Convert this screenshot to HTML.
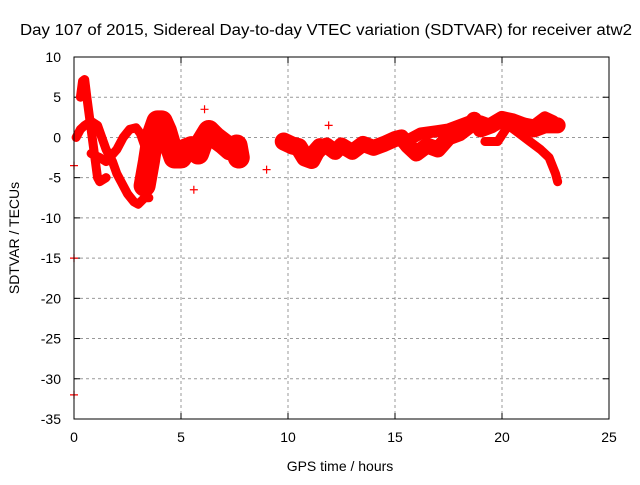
<!DOCTYPE html>
<html><head><meta charset="utf-8"><style>
body{margin:0;background:#fff}
svg text{font-family:"Liberation Sans",sans-serif;font-size:14px;fill:#000}
</style></head><body>
<svg width="640" height="480" id="c">
<rect width="640" height="480" fill="#fff"/>
<text x="20" y="35" textLength="612" lengthAdjust="spacingAndGlyphs" style="font-size:15.5px">Day 107 of 2015, Sidereal Day-to-day VTEC variation (SDTVAR) for receiver atw2</text>
<text x="340" y="471" text-anchor="middle">GPS time / hours</text>
<text transform="translate(19,238) rotate(-90)" text-anchor="middle">SDTVAR / TECUs</text>
<g id="grid"></g><g id="data"></g>
<rect x="74" y="57" width="535" height="362" fill="none" stroke="#000" stroke-width="1"/>
</svg>
<script>
const xTicks=[0,5,10,15,20,25];
const yTicks=[10,5,0,-5,-10,-15,-20,-25,-30,-35];
const traceA=[[0.3,5],[0.4,7],[0.5,7.2],[0.6,5],[0.7,3],[0.8,1],[0.9,-1],[1.0,-3],[1.1,-5],[1.2,-5.5],[1.5,-5]];
const traceB=[[0.1,0],[0.3,1],[0.5,1.5],[0.8,2],[1.1,1.5],[1.3,0],[1.5,-1.5],[1.8,-3],[2.0,-4.5],[2.2,-5.5],[2.5,-7],[2.8,-8],[3.0,-8.3],[3.3,-7.5],[3.5,-7.5]];
const traceC=[[0.8,-2],[1.2,-2.5],[1.5,-3],[2.0,-1.5],[2.3,0],[2.6,1],[2.9,1.2],[3.1,0.5],[3.3,-1],[3.5,-3]];
const traceD=[[3.3,-6],[3.5,-3],[3.7,0.5],[3.9,2],[4.1,2],[4.3,0.8],[4.5,-1],[4.7,-2.5],[5.0,-2.5],[5.2,-1.5],[5.5,-1.2],[5.8,-2],[6.0,-0.5],[6.3,0.8],[6.6,0],[7.0,-0.8],[7.3,-1.5],[7.6,-1],[7.7,-2.5]];
const traceE=[[9.8,-0.5],[10.2,-1],[10.5,-1.2],[10.8,-2.5],[11.1,-2.8],[11.3,-1.8],[11.5,-1.2]];
const traceF=[[11.8,-1],[12.2,-1.8],[12.5,-1],[13,-1.8],[13.5,-0.8],[14,-1.3],[14.5,-0.8],[15,-0.2],[15.3,0],[15.6,-1],[16,-2],[16.5,-1],[17,-1.5],[17.5,0],[18,0.5],[18.5,1.5],[18.7,2.2],[19.0,1],[19.5,1.5],[20,2.3],[20.5,2],[21,1.5],[21.5,1],[22,1.5],[22.6,1.5]];
const traceG=[[15.5,-0.5],[16.2,0.5],[17,0.8],[17.5,1],[18,1.5],[18.5,2],[19,2],[19.5,1.5],[20,2.5],[20.5,2],[21.5,1.5],[22,2.5],[22.4,2]];
const traceH=[[19.2,-0.5],[19.8,-0.5],[20.3,1.5],[20.8,0.5],[21.3,-0.5],[21.8,-1.5],[22.2,-2.5],[22.5,-4.5],[22.6,-5.5]];
const isolated=[[0,-3.5],[0,-32],[0,-15],[5.6,-6.5],[6.1,3.5],[9.0,-4],[11.9,1.5]];
const traces=[traceA,traceB,traceC,traceD,traceE,traceF,traceG,traceH];
const widths=[9,9,9,22,18,16,12,9];
const X=v=>74+v*535/25, Y=v=>57+(10-v)*362/45;
const NS="http://www.w3.org/2000/svg";
const grid=document.getElementById('grid'), data=document.getElementById('data');
function mk(tag,attrs,parent){const e=document.createElementNS(NS,tag);for(const k in attrs)e.setAttribute(k,attrs[k]);parent.appendChild(e);return e;}
xTicks.forEach(t=>{
  if(t>0&&t<25){const g=mk('line',{x1:X(t),x2:X(t),y1:57,y2:419,stroke:'#999','stroke-dasharray':'3,3'},grid);
  
  }
  mk('line',{x1:X(t),x2:X(t),y1:419,y2:413,stroke:'#000'},grid);
  mk('line',{x1:X(t),x2:X(t),y1:57,y2:63,stroke:'#000'},grid);
  const l=mk('text',{x:X(t),y:442,'text-anchor':'middle'},grid);l.textContent=t;
  
  
});
yTicks.forEach(t=>{
  if(t<10&&t>-35){const g=mk('line',{x1:74,x2:609,y1:Y(t),y2:Y(t),stroke:'#999','stroke-dasharray':'3,3'},grid);
  
  }
  mk('line',{x1:74,x2:80,y1:Y(t),y2:Y(t),stroke:'#000'},grid);
  mk('line',{x1:603,x2:609,y1:Y(t),y2:Y(t),stroke:'#000'},grid);
  const l=mk('text',{x:61,y:Y(t)+5,'text-anchor':'end'},grid);l.textContent=t;
  
  
});
function plus(p){const x=X(p[0]),y=Y(p[1]);
  const e=mk('path',{d:`M${x-4},${y}H${x+4}M${x},${y-4}V${y+4}`,stroke:'#f00','stroke-width':1.2},data);
  
  }
traces.forEach((tr,i)=>{
  const pl=mk('polyline',{points:tr.map(p=>X(p[0])+','+Y(p[1])).join(' '),fill:'none',stroke:'#f00','stroke-width':widths[i],'stroke-linejoin':'round','stroke-linecap':'round'},data);
  
  
  tr.forEach(plus);
});
isolated.forEach(plus);
</script>
</body></html>
